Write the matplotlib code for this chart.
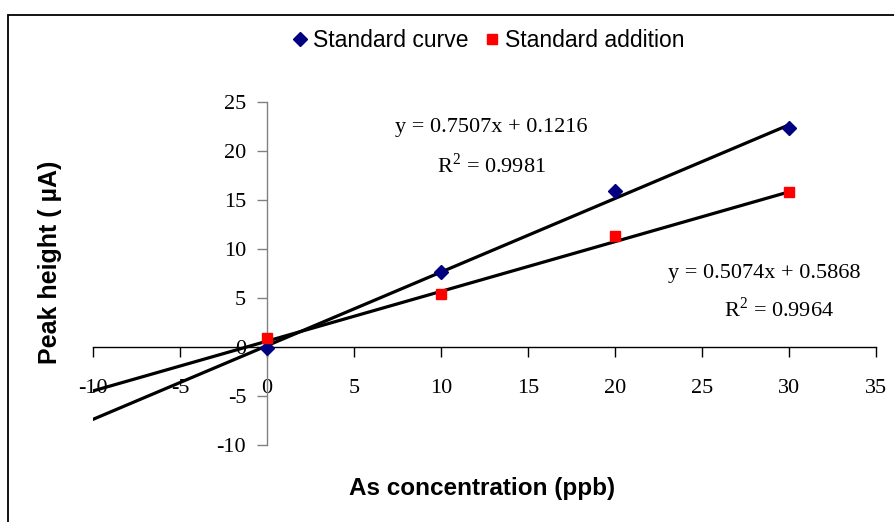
import matplotlib
matplotlib.use("Agg")
import matplotlib.pyplot as plt
from matplotlib.patches import Rectangle
import numpy as np

plt.rcParams['axes.unicode_minus'] = False
plt.rcParams['mathtext.fontset'] = 'custom'
plt.rcParams['mathtext.rm'] = 'Liberation Serif'

# Data
conc = [0, 10, 20, 30]
std_curve = [-0.1, 7.6, 15.9, 22.35]
std_addition = [0.9, 5.4, 11.35, 15.75]
fit_curve = (0.7507, 0.1216)
fit_addition = (0.5074, 0.5868)
line_x = [-10, 30]
xticks = [-10, -5, 0, 5, 10, 15, 20, 25, 30, 35]
yticks = [-10, -5, 0, 5, 10, 15, 20, 25]

fig = plt.figure(figsize=(8.94, 5.22), dpi=100)
ax = fig.add_axes([0.104, 0.1475, 0.876, 0.6577])
ax.set_xlim(-10, 35)
ax.set_ylim(-10, 25)

lx = np.array(line_x, dtype=float)
ax.plot(lx, fit_curve[0] * lx + fit_curve[1], color='black', lw=2.3, zorder=2)
ax.plot(lx, fit_addition[0] * lx + fit_addition[1], color='black', lw=2.3, zorder=2)
ax.plot(conc, std_curve, linestyle='none', marker='D', ms=7.5, color='#000080',
        label='Standard curve', zorder=3)
ax.plot(conc, std_addition, linestyle='none', marker='s', ms=7.5, color='#FF0000',
        label='Standard addition', zorder=3)

for s in ['top', 'right']:
    ax.spines[s].set_visible(False)
ax.spines['left'].set_position(('data', 0))
ax.spines['bottom'].set_position(('data', 0))
ax.spines['left'].set_color('#808080')
ax.spines['bottom'].set_color('black')
ax.spines['left'].set_linewidth(1.0)
ax.spines['bottom'].set_linewidth(1.0)
ax.set_xticks(xticks)
ax.set_yticks(yticks)
ax.tick_params(axis='x', direction='out', length=7, width=1.0, color='black', pad=16)
ax.tick_params(axis='y', direction='out', length=7, width=1.0, color='#808080', pad=8)
for lab in ax.get_xticklabels() + ax.get_yticklabels():
    lab.set_fontfamily('Liberation Serif')
    lab.set_fontsize(16)

serif = dict(fontfamily='Liberation Serif', fontsize=16, ha='center', va='center')
ax.text(12.9, 22.4, 'y = 0.7507x + 0.1216', **serif)
ax.text(12.9, 18.5, r'R$^{2}$ = 0.9981', **serif)
ax.text(28.6, 7.5, 'y = 0.5074x + 0.5868', **serif)
ax.text(29.4, 3.8, r'R$^{2}$ = 0.9964', **serif)

fig.text(0.539, 0.065, 'As concentration (ppb)', fontfamily='Liberation Sans',
         fontweight='bold', fontsize=17.5, ha='center', va='center')
fig.text(0.056, 0.497, 'Peak height ( µA)', fontfamily='Liberation Sans',
         fontweight='bold', fontsize=18, ha='center', va='center', rotation=90)

leg = fig.legend(loc='center', bbox_to_anchor=(0.545, 0.922), ncol=2, frameon=False,
                 prop={'family': 'Liberation Sans', 'size': 16.5}, handletextpad=0.1,
                 columnspacing=0.6, handlelength=0.9, markerscale=0.9)

fig.patches.append(Rectangle((8 / 894, -0.1), 1.1, 1 - 15 / 522 + 0.1,
                             transform=fig.transFigure, fill=False,
                             edgecolor='black', lw=1.3))

fig.savefig('out.png', dpi=100)
